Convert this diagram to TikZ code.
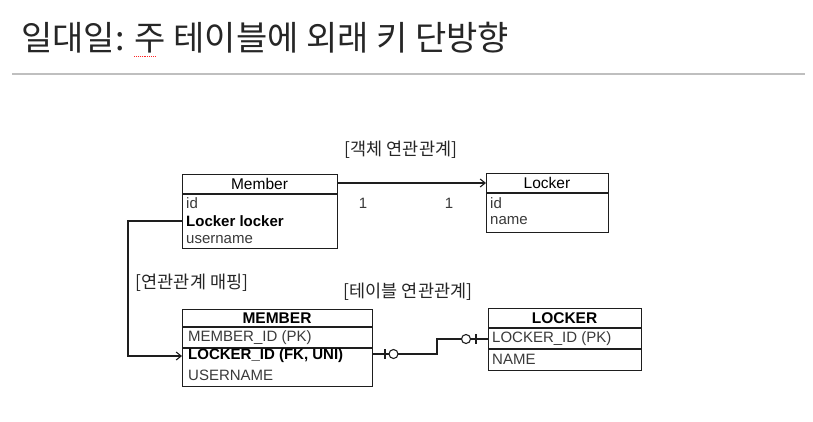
\documentclass[tikz,border=0pt]{standalone}
\usepackage{fontspec}
\setmainfont{Liberation Sans}
\newfontfamily\kr{Noto Sans CJK KR}
\usetikzlibrary{arrows.meta}
\definecolor{txt}{HTML}{3A3A3A}
\definecolor{ln}{HTML}{1E1E1E}
\tikzset{
  tbl/.style={draw=ln, line width=1.4pt, anchor=north west, inner sep=0pt},
  hdr/.style={font=\fontsize{15.5}{17}\selectfont, text=black, inner sep=0pt},
  rowtxt/.style={font=\fontsize{15}{17}\selectfont, text=txt, anchor=west, inner sep=0pt},
  rowbold/.style={font=\bfseries\fontsize{15}{17}\selectfont, text=black, anchor=west, inner sep=0pt},
  krlab/.style={font=\kr\fontsize{17.5}{19}\selectfont, text=black!85, inner sep=0pt},
  conn/.style={draw=ln, line width=1.1pt},
  tip/.style={-{Straight Barb[length=5pt,width=8pt,line width=1.1pt]}}
}
\begin{document}
\begin{tikzpicture}[x=1pt,y=-1pt]
\useasboundingbox[fill=white] (0,0) rectangle (813,421);

% title
\node[anchor=west, font=\kr\fontsize{34}{38}\selectfont, text=black!85, inner sep=0pt] (title) at (21,38) {일대일: 주 테이블에 외래 키 단방향};
\draw[red!80!pink, densely dotted, line width=0.9pt] (134,56) -- (156,56);
\draw[black!25, line width=1.2pt] (12,74) -- (805,74);

% Member (object)
\node[tbl, minimum width=155pt, minimum height=74pt] (member) at (182,174) {};
\draw[line width=1.3pt, draw=ln] (182,194) -- (337,194);
\node[hdr] (memberH) at (259.5,184) {Member};
\node[rowtxt] (memberId) at (186,203) {id};
\node[rowbold] (memberLk) at (186,221) {Locker locker};
\node[rowtxt] (memberUn) at (186,239.5) {username};

% Locker (object)
\node[tbl, minimum width=122pt, minimum height=59pt] (locker) at (486,173) {};
\draw[line width=1.3pt, draw=ln] (486,193) -- (608,193);
\node[hdr] (lockerH) at (547,183) {Locker};
\node[rowtxt] (lockerId) at (490,203) {id};
\node[rowtxt] (lockerNm) at (490,221) {name};

% object association
\draw[conn, tip] (member.east |- lockerH) -- (locker.west |- lockerH);
\node[krlab] (objlab) at (401,150) {[객체 연관관계]};
\node[rowtxt, anchor=center] (one1) at (363,203) {1};
\node[rowtxt, anchor=center] (one2) at (449,203) {1};

% MEMBER (table)
\node[tbl, minimum width=190pt, minimum height=77pt] (MEMBER) at (182,309) {};
\draw[line width=1.3pt, draw=ln] (182,327) -- (372,327);
\draw[line width=1.3pt, draw=ln] (182,348) -- (372,348);
\node[hdr, font=\bfseries\fontsize{15.5}{17}\selectfont] (MEMBERH) at (277,318) {MEMBER};
\node[rowtxt] (MEMBERId) at (188,338) {MEMBER\_ID (PK)};
\node[rowbold] (MEMBERLk) at (188,356) {LOCKER\_ID (FK, UNI)};
\node[rowtxt] (MEMBERUn) at (188,375) {USERNAME};

% LOCKER (table)
\node[tbl, minimum width=153pt, minimum height=62pt] (LOCKER) at (488,308) {};
\draw[line width=1.3pt, draw=ln] (488,328) -- (641,328);
\draw[line width=1.3pt, draw=ln] (488,349) -- (641,349);
\node[hdr, font=\bfseries\fontsize{15.5}{17}\selectfont] (LOCKERH) at (564.5,318) {LOCKER};
\node[rowtxt] (LOCKERId) at (492,339) {LOCKER\_ID (PK)};
\node[rowtxt] (LOCKERNm) at (492,359) {NAME};

\node[krlab] (tbllab) at (408,292) {[테이블 연관관계]};
\node[krlab] (maplab) at (192,283) {[연관관계 매핑]};

% mapping connector
\coordinate (bendL) at (128,221);
\draw[conn, tip] (member.west |- memberLk) -- (bendL) |- (MEMBER.west |- MEMBERLk);

% table relationship with zero-or-one markers
\coordinate (mA) at (372,354);
\coordinate (mB) at (437,354);
\coordinate (lA) at (437,339);
\coordinate (lB) at (488,339);
\draw[conn] (MEMBER.east |- mA) -- (389,354);
\draw[conn] (398,354) -- (mB) -- (lA) -- (461.5,339);
\draw[conn] (470.5,339) -- (LOCKER.west |- lB);
\draw[conn] (385,349) -- (385,359);
\draw[conn] (393.5,354) circle (4.5pt);
\draw[conn] (476,334) -- (476,344);
\draw[conn] (466,339) circle (4.5pt);
\end{tikzpicture}
\end{document}
